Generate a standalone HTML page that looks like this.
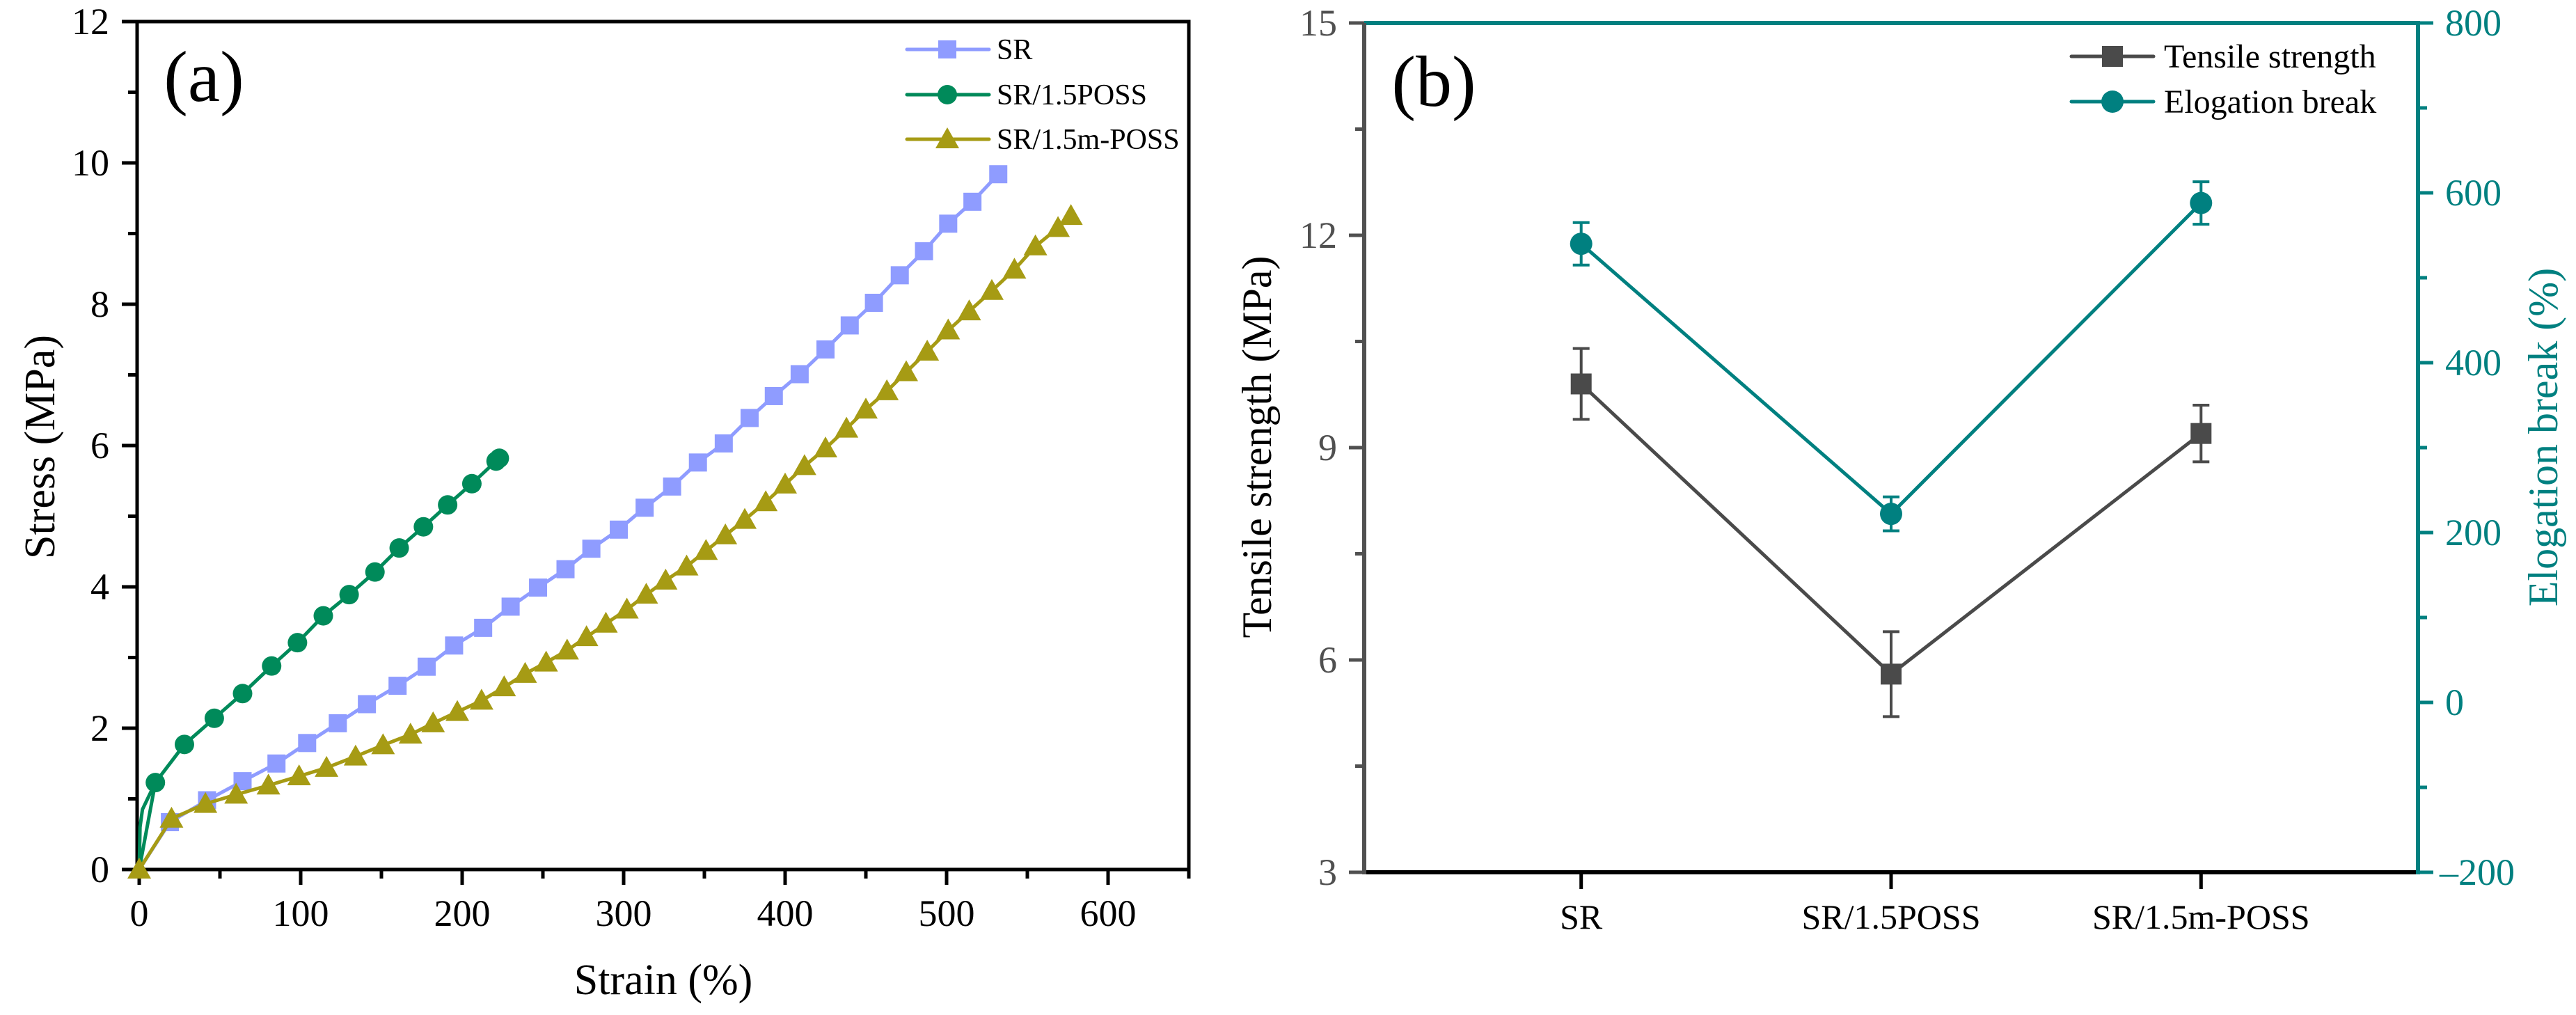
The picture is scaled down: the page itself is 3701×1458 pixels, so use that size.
<!DOCTYPE html>
<html><head><meta charset="utf-8"><style>
html,body{margin:0;padding:0;background:#fff;}
svg{display:block;}
svg text{font-family:"Liberation Serif","Times New Roman",Times,serif;}
</style></head><body>
<svg id="fig" width="3701" height="1458" viewBox="0 0 3701 1458" xmlns="http://www.w3.org/2000/svg" font-family="Liberation Serif, Times New Roman, serif">
<g id="pa"></g>
<g id="pb"></g>
</svg>
<script>
// ---- Panel (a) data ----
const srStrain=[0,19,42,64,85,104,123,141,160,178,195,213,230,247,264,280,297,313,330,346,362,378,393,409,425,440,455,471,486,501,516,532];
const srStress=[0,0.67,0.98,1.25,1.50,1.79,2.07,2.34,2.60,2.87,3.17,3.42,3.72,3.99,4.25,4.54,4.81,5.12,5.42,5.76,6.03,6.39,6.70,7.01,7.36,7.70,8.02,8.41,8.75,9.14,9.45,9.84];
const possStrain=[0,0.5,2,10,28,46.5,64,82,98,114,130,146,161,176,191,206,221,223];
const possStress=[0,0.6,0.85,1.23,1.77,2.14,2.49,2.88,3.21,3.59,3.89,4.21,4.55,4.85,5.16,5.46,5.78,5.82];
const mStrain=[0,20,41,60,80,99,116,134,151,168,182,197,212,226,239,252,265,277,289,302,314,326,339,351,363,375,388,400,412,425,438,450,463,475,488,501,514,528,542,555,569,577];
const mStress=[0,0.72,0.93,1.06,1.19,1.32,1.44,1.60,1.76,1.91,2.07,2.23,2.39,2.58,2.77,2.93,3.10,3.29,3.48,3.68,3.89,4.09,4.29,4.51,4.73,4.95,5.20,5.45,5.71,5.96,6.24,6.51,6.77,7.04,7.33,7.63,7.90,8.19,8.49,8.82,9.08,9.25];
const aXTicks=[0,100,200,300,400,500,600];
const aYTicks=[0,2,4,6,8,10,12];
// ---- Panel (b) data ----
const bCats=["SR","SR/1.5POSS","SR/1.5m-POSS"];
const tensile=[9.9,5.8,9.2];
const tensileErr=[0.5,0.6,0.4];
const elong=[540,222,588];
const elongErr=[25,20,25];
const bLeftTicks=[3,6,9,12,15];
const bRightTicks=[-200,0,200,400,600,800];

const NS="http://www.w3.org/2000/svg";
function mk(parent,tag,attrs,name,text){
  const el=document.createElementNS(NS,tag);
  for(const k in attrs) el.setAttribute(k,attrs[k]);
  
  
  if(text!==undefined){ el.textContent=text; el.setAttribute('font-family','Liberation Serif, Times New Roman, serif'); }
  parent.appendChild(el);return el;
}
// Panel a
const pa=document.getElementById('pa');
const AL=197,AR=1708,AT=31,AB=1249,XMIN=-1.3,XMAX=650,YMIN=0,YMAX=12;
const ax=v=>AL+(v-XMIN)/(XMAX-XMIN)*(AR-AL);
const ay=v=>AB-(v-YMIN)/(YMAX-YMIN)*(AB-AT);
mk(pa,'rect',{x:AL,y:AT,width:AR-AL,height:AB-AT,fill:'none',stroke:'#000','stroke-width':5},'plot-frame-a');
for(let v=0;v<=650;v+=50){const maj=v%100===0;
  mk(pa,'line',{x1:ax(v),x2:ax(v),y1:AB,y2:AB+(maj?22:13),stroke:'#000','stroke-width':5},'x-tick');}
for(let v=0;v<=12;v+=1){const maj=v%2===0;
  mk(pa,'line',{x1:AL,x2:AL-(maj?22:13),y1:ay(v),y2:ay(v),stroke:'#000','stroke-width':5},'y-tick');}
aXTicks.forEach(v=>mk(pa,'text',{x:ax(v),y:1330,'font-size':54,'text-anchor':'middle'},'x-tick-label',String(v)));
aYTicks.forEach(v=>mk(pa,'text',{x:157,y:ay(v)+18,'font-size':54,'text-anchor':'end'},'y-tick-label',String(v)));
mk(pa,'text',{x:953,y:1428,'font-size':62,'text-anchor':'middle'},'x-axis-title','Strain (%)');
mk(pa,'text',{x:0,y:0,'font-size':62,'text-anchor':'middle',transform:'translate(78,642) rotate(-90)'},'y-axis-title','Stress (MPa)');
mk(pa,'text',{x:293,y:145,'font-size':104,'text-anchor':'middle'},'panel-label-a','(a)');
function series(g,xs,ys,color,shape,name){
  const pts=xs.map((x,i)=>ax(x)+','+ay(ys[i])).join(' ');
  mk(g,'polyline',{points:pts,fill:'none',stroke:color,'stroke-width':5,'stroke-linejoin':'round'},name+'-line');
  xs.forEach((x,i)=>{ if(i===0 && shape!=='tri') return; marker(g,ax(x),ay(ys[i]),color,shape,name+'-marker');});
}
function marker(g,cx,cy,color,shape,name){
  if(shape==='sq') mk(g,'rect',{x:cx-13,y:cy-13,width:26,height:26,fill:color},name);
  else if(shape==='ci') mk(g,'circle',{cx:cx,cy:cy,r:14,fill:color},name);
  else if(shape==='tri') mk(g,'polygon',{points:`${cx},${cy-17} ${cx-17},${cy+13} ${cx+17},${cy+13}`,fill:color},name);
  else if(shape==='sqb') mk(g,'rect',{x:cx-15,y:cy-15,width:30,height:30,fill:color},name);
  else if(shape==='cib') mk(g,'circle',{cx:cx,cy:cy,r:16,fill:color},name);
}
const cSR='#8f9cff',cP='#008a5a',cM='#a69b14';
series(pa,srStrain,srStress,cSR,'sq','sr');
series(pa,possStrain.filter((_,i)=>i!==1&&i!==2),possStress.filter((_,i)=>i!==1&&i!==2),cP,'ci','poss');
mk(pa,'polyline',{points:possStrain.slice(0,4).map((x,i)=>ax(x)+','+ay(possStress[i])).join(' '),fill:'none',stroke:cP,'stroke-width':5},'poss-start-line');
series(pa,mStrain,mStress,cM,'tri','mposs');
const legA=[["SR",cSR,'sq',71],["SR/1.5POSS",cP,'ci',136],["SR/1.5m-POSS",cM,'tri',200]];
legA.forEach(l=>{
  mk(pa,'line',{x1:1303,x2:1421,y1:l[3],y2:l[3],stroke:l[1],'stroke-width':5,'stroke-linecap':'round'},'legend-line');
  marker(pa,1361,l[3],l[1],l[2],'legend-marker');
  mk(pa,'text',{x:1432,y:l[3]+14,'font-size':42},'legend-entry',l[0]);
});
// Panel b
const pb=document.getElementById('pb');
const BL=1960,BR=3474,BT=33,BB=1253;
const bx=i=>BL+(i+1-0.3)/3.4*(BR-BL);
const byL=v=>BB-(v-3)/12*(BB-BT);
const byR=v=>BB-(v+200)/1000*(BB-BT);
const gray='#505050',teal='#008080';
mk(pb,'line',{x1:BL,x2:BR,y1:BT,y2:BT,stroke:teal,'stroke-width':6},'top-axis');
mk(pb,'line',{x1:BL,x2:BR,y1:BB,y2:BB,stroke:'#000','stroke-width':6},'x-axis');
mk(pb,'line',{x1:BL,x2:BL,y1:BT,y2:BB+3,stroke:gray,'stroke-width':6},'left-y-axis');
mk(pb,'line',{x1:BR,x2:BR,y1:BT-3,y2:BB+3,stroke:teal,'stroke-width':6},'right-y-axis');
for(let v=3;v<=15;v+=1.5){const maj=(v%3===0);
  mk(pb,'line',{x1:BL,x2:BL-(maj?22:13),y1:byL(v),y2:byL(v),stroke:gray,'stroke-width':5},'left-tick');}
for(let v=-200;v<=800;v+=100){const maj=(v%200===0);
  mk(pb,'line',{x1:BR,x2:BR+(maj?22:13),y1:byR(v),y2:byR(v),stroke:teal,'stroke-width':5},'right-tick');}
bLeftTicks.forEach(v=>mk(pb,'text',{x:1921,y:byL(v)+18,'font-size':54,'text-anchor':'end',fill:gray},'left-tick-label',String(v)));
bRightTicks.forEach(v=>mk(pb,'text',{x:v<0?3505:3513,y:byR(v)+18,'font-size':54,fill:teal},'right-tick-label',v<0?'\u2013'+(-v):String(v)));
bCats.forEach((c,i)=>{
  mk(pb,'line',{x1:bx(i),x2:bx(i),y1:BB,y2:BB+24,stroke:'#000','stroke-width':5},'x-tick');
  mk(pb,'text',{x:bx(i),y:1334,'font-size':50,'text-anchor':'middle'},'category-label',c);
});
mk(pb,'text',{x:0,y:0,'font-size':60,'text-anchor':'middle',transform:'translate(1826,642) rotate(-90)'},'left-axis-title','Tensile strength (MPa)');
mk(pb,'text',{x:0,y:0,'font-size':60,'text-anchor':'middle',fill:teal,transform:'translate(3674,628) rotate(-90)'},'right-axis-title','Elogation break (%)');
mk(pb,'text',{x:2060,y:152,'font-size':104,'text-anchor':'middle'},'panel-label-b','(b)');
function errSeries(vals,errs,fy,color,shape,name){
  mk(pb,'polyline',{points:vals.map((v,i)=>bx(i)+','+fy(v)).join(' '),fill:'none',stroke:color,'stroke-width':5},name+'-line');
  vals.forEach((v,i)=>{
    const x=bx(i);
    mk(pb,'line',{x1:x,x2:x,y1:fy(v+errs[i]),y2:fy(v-errs[i]),stroke:color,'stroke-width':4},name+'-error-bar');
    mk(pb,'line',{x1:x-12,x2:x+12,y1:fy(v+errs[i]),y2:fy(v+errs[i]),stroke:color,'stroke-width':4},name+'-error-cap');
    mk(pb,'line',{x1:x-12,x2:x+12,y1:fy(v-errs[i]),y2:fy(v-errs[i]),stroke:color,'stroke-width':4},name+'-error-cap');
    marker(pb,x,fy(v),color,shape,name+'-marker');
  });
}
errSeries(tensile,tensileErr,byL,'#4a4a4a','sqb','tensile');
errSeries(elong,elongErr,byR,teal,'cib','elongation');
[["Tensile strength",'#4a4a4a','sqb',81],["Elogation break",teal,'cib',146]].forEach(l=>{
  mk(pb,'line',{x1:2976,x2:3094,y1:l[3],y2:l[3],stroke:l[1],'stroke-width':5,'stroke-linecap':'round'},'legend-line');
  marker(pb,3035,l[3],l[1],l[2],'legend-marker');
  mk(pb,'text',{x:3109,y:l[3]+16,'font-size':48},'legend-entry',l[0]);
});
</script>
</body></html>
